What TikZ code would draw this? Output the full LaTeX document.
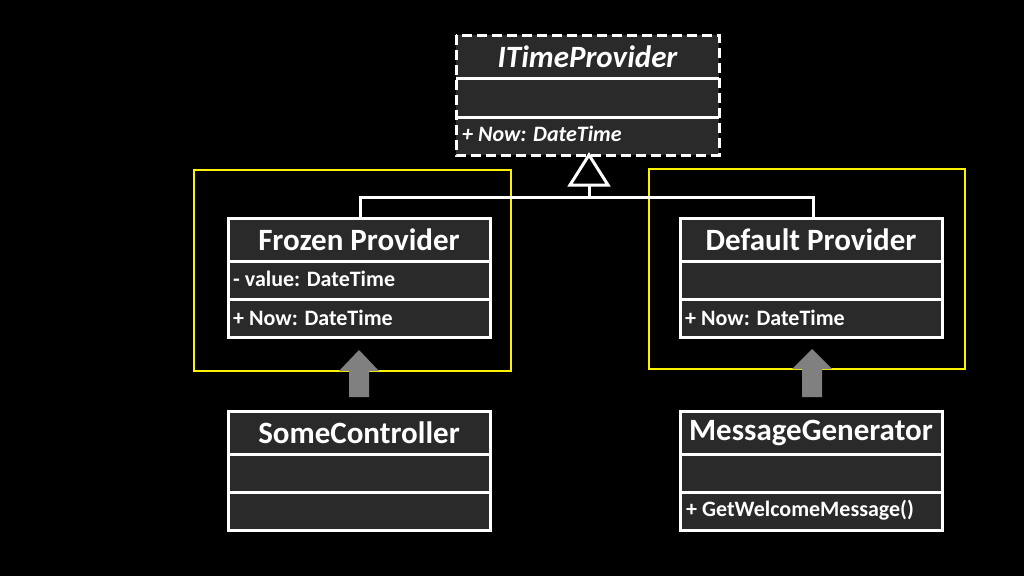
\documentclass[tikz,border=0pt]{standalone}
\usepackage{fontspec}
\setmainfont{Carlito}
\definecolor{boxfill}{HTML}{2A2A2A}
\definecolor{arrgray}{HTML}{808080}
\begin{document}
\begin{tikzpicture}[x=1pt,y=-1pt,
  comp/.style={draw=white,line width=3pt,fill=boxfill},
  dcomp/.style={draw=white,line width=3pt,fill=boxfill,dash pattern=on 10pt off 5pt},
  ttl/.style={text=white,font=\bfseries\fontsize{31}{36}\selectfont},
  att/.style={text=white,font=\bfseries\fontsize{22}{26}\selectfont,anchor=west,inner sep=1pt},
  yel/.style={draw=yellow,line width=2pt},
  conn/.style={draw=white,line width=3pt},
  blk/.style={fill=arrgray}]
\useasboundingbox[fill=black] (0,0) rectangle (1024,576);
% ITimeProvider
\draw[dcomp] (456,35) rectangle (719,155);
\draw[white,line width=3pt] (456,78) -- (719,78) (456,117) -- (719,117);
\node[ttl,font=\bfseries\itshape\fontsize{31}{36}\selectfont] (itp) at (587.5,57) {ITimeProvider};
\node[att,font=\bfseries\itshape\fontsize{22}{26}\selectfont] (itpm) at (461,134) {+ Now: DateTime};
\coordinate (tip) at (589,155);
% classes
\foreach \nm/\x/\y in {fp/228/218,dp/680/218,sc/228/411,mg/680/411}{
  \draw[comp] (\x,\y) rectangle ++(262,119);
  \draw[white,line width=3pt] (\x,\y+43) -- ++(262,0) (\x,\y+81) -- ++(262,0);
}
\node[ttl] (fpt) at (359,240) {Frozen Provider};
\node[att] (fpa) at (232,279) {- value: DateTime};
\node[att] (fpm) at (232,318) {+ Now: DateTime};
\node[ttl] (dpt) at (811,240) {Default Provider};
\node[att] (dpm) at (684,318) {+ Now: DateTime};
\node[ttl] (sct) at (359,433) {SomeController};
\node[ttl] (mgt) at (811,433) {MessageGenerator};
\node[att] (mgm) at (685,510) {+ GetWelcomeMessage()};
% yellow
\draw[yel] (194,170) rectangle (511,371);
\draw[yel] (649,169) rectangle (965,369);
% generalization
\coordinate (tb) at (589,185);
\coordinate (fpc) at (360,218);
\coordinate (dpc) at (813,218);
\draw[conn] (tb) -- (589,197) (fpc) -- (360,197) -- (813,197) -- (dpc);
\draw[white,line width=3pt,fill=black,line join=miter] (tip) -- (608,185) -- (570,185) -- cycle;
% gray block arrows
\fill[blk] (349,397) -- (349,371) -- (339,371) -- (359,350) -- (379,371) -- (369,371) -- (369,397) -- cycle;
\fill[blk] (802,397) -- (802,369) -- (792,369) -- (812,349) -- (832,369) -- (822,369) -- (822,397) -- cycle;
\end{tikzpicture}
\end{document}
